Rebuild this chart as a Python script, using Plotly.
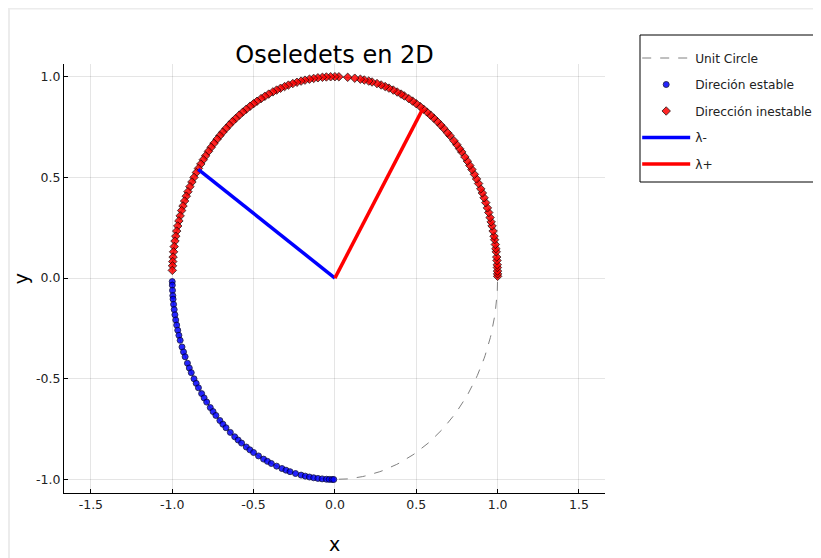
import numpy as np
import plotly.graph_objects as go

# ---- data ----
title_text = "Oseledets en 2D"
x_label = "x"
y_label = "y"
x_ticks = [-1.5, -1.0, -0.5, 0.0, 0.5, 1.0, 1.5]
y_ticks = [-1.0, -0.5, 0.0, 0.5, 1.0]

stable_angles = [181, 182, 183.5, 185, 186, 187.5, 189, 190.5, 192, 193.5, 195, 196.5,
                 198, 200, 201.5, 203, 205, 206.5, 208, 210, 211.5, 213, 215, 216.5,
                 218, 220, 221.5, 223, 225, 226.5, 228, 230, 232, 233.5, 235, 237,
                 238.5, 240, 242, 244, 245.5, 247, 249, 251, 252.5, 254, 256, 258,
                 259.5, 261, 262.5, 264, 265.5, 267, 268, 269, 269.6]
unstable_angles = [0.5, 1.2, 2, 3, 3.8, 5, 6, 7.5, 8.4, 9.6, 11, 12, 13.5, 15, 16.2,
                   17.5, 19, 20.4, 22, 23.5, 25, 26.3, 28, 29.5, 31, 32.6, 34, 35.5, 37,
                   38.8, 40, 41.5, 43, 45, 46.2, 48, 49.5, 51, 52.6, 54, 55.5, 57, 58.4,
                   60, 61.5, 63, 64.8, 66, 67.5, 69, 70.6, 72, 73.5, 75, 76.8, 78, 79.6,
                   81, 83, 85.5, 88.6, 90, 91.5, 93, 94.4, 96, 97.5, 99, 100.6, 102,
                   103.5, 105, 106.6, 108, 109.5, 111, 112.4, 114, 115.5, 117, 118.6,
                   120, 121.4, 123, 124.5, 126, 127.6, 129, 130.5, 132, 133.6, 135,
                   136.4, 138, 139.5, 141, 142.6, 144, 145.5, 147, 148.4, 150, 151.5,
                   153, 154.6, 156, 157.5, 159, 160.4, 162, 163.5, 165, 166.5, 168,
                   169.4, 171, 172.5, 174, 175.3, 176.5, 177.8]

lambda_minus = [-0.84, 0.54]
lambda_plus = [0.54, 0.84]

names = ["Unit Circle", "Direción estable", "Dirección inestable", "λ-", "λ+"]

# ---- figure ----
FONT = "DejaVu Sans"
theta = np.linspace(0, 2 * np.pi, 400)
sa = np.deg2rad(np.array(stable_angles))
ua = np.deg2rad(np.array(unstable_angles))

fig = go.Figure()
fig.add_trace(go.Scatter(x=np.cos(theta), y=np.sin(theta), mode="lines", name=names[0],
                         line=dict(color="gray", width=1, dash="dash"), legendgroup="a"))
fig.add_trace(go.Scatter(x=np.cos(sa), y=np.sin(sa), mode="markers", name=names[1],
                         marker=dict(symbol="circle", size=6, color="blue", opacity=0.85,
                                     line=dict(color="rgba(0,0,50,0.9)", width=1)),
                         legendgroup="b"))
fig.add_trace(go.Scatter(x=np.cos(ua), y=np.sin(ua), mode="markers", name=names[2],
                         marker=dict(symbol="diamond", size=6.5, color="red", opacity=0.85,
                                     line=dict(color="rgba(30,0,0,0.9)", width=1)),
                         legendgroup="c"))
fig.add_trace(go.Scatter(x=[0, lambda_minus[0]], y=[0, lambda_minus[1]], mode="lines",
                         name=names[3], line=dict(color="blue", width=3.5), legendgroup="d"))
fig.add_trace(go.Scatter(x=[0, lambda_plus[0]], y=[0, lambda_plus[1]], mode="lines",
                         name=names[4], line=dict(color="red", width=3.5), legendgroup="e"))

axis_common = dict(showgrid=True, gridcolor="rgba(0,0,0,0.1)", gridwidth=1,
                   zeroline=False, showline=True, linecolor="black", linewidth=1,
                   ticks="inside", ticklen=4, tickcolor="black",
                   tickfont=dict(family=FONT, size=12.5, color="#222"),
                   mirror=False)

# paper-coordinate helpers (plot area 541 x 429 px, margins l=56, t=56)
PW, PH = 541.0, 429.0
W, H = 813, 550

fig.update_layout(
    width=W, height=H,
    margin=dict(l=56, r=W - 56 - 541, t=56, b=H - 56 - 429, autoexpand=False),
    paper_bgcolor="white", plot_bgcolor="white",
    title=dict(text=title_text, x=0.5, xref="paper", xanchor="center",
               y=1 - 47 / H, yanchor="middle", yref="container",
               font=dict(family=FONT, size=24, color="black")),
    xaxis=dict(range=[-1.665, 1.66], tickvals=x_ticks,
               ticktext=[f"{v:.1f}" for v in x_ticks],
               title=dict(text=x_label, standoff=26,
                          font=dict(family=FONT, size=19, color="black")),
               **axis_common),
    yaxis=dict(range=[-1.067, 1.063], tickvals=y_ticks,
               ticktext=[f"{v:.1f}" for v in y_ticks],
               title=dict(text=y_label, standoff=2,
                          font=dict(family=FONT, size=19, color="black")),
               **axis_common),
    showlegend=True,
    legend=dict(x=1.0595, y=(485 - 35.5) / PH, xanchor="left", yanchor="top",
                borderwidth=0, bgcolor="rgba(0,0,0,0)",
                font=dict(family=FONT, size=12.2, color="#222"),
                traceorder="grouped", tracegroupgap=7.5, itemwidth=48),
    shapes=[
        # legend frame
        dict(type="rect", xref="paper", yref="paper", layer="below",
             x0=(632 - 56) / PW, x1=1.6, y0=(485 - 174) / PH, y1=(485 - 27) / PH,
             line=dict(color="black", width=1), fillcolor="white"),
        # faint outer frame of the figure
        dict(type="line", xref="paper", yref="paper", layer="below",
             x0=-55 / PW, x1=-55 / PW, y0=-0.2, y1=1 + 56 / PH,
             line=dict(color="#ececec", width=2)),
        dict(type="line", xref="paper", yref="paper", layer="below",
             x0=-56 / PW, x1=1.6, y0=1 + 55.5 / PH, y1=1 + 55.5 / PH,
             line=dict(color="#ececec", width=2)),
    ],
)

fig.write_html("out.html", post_script="document.body.style.overflow='hidden';")
